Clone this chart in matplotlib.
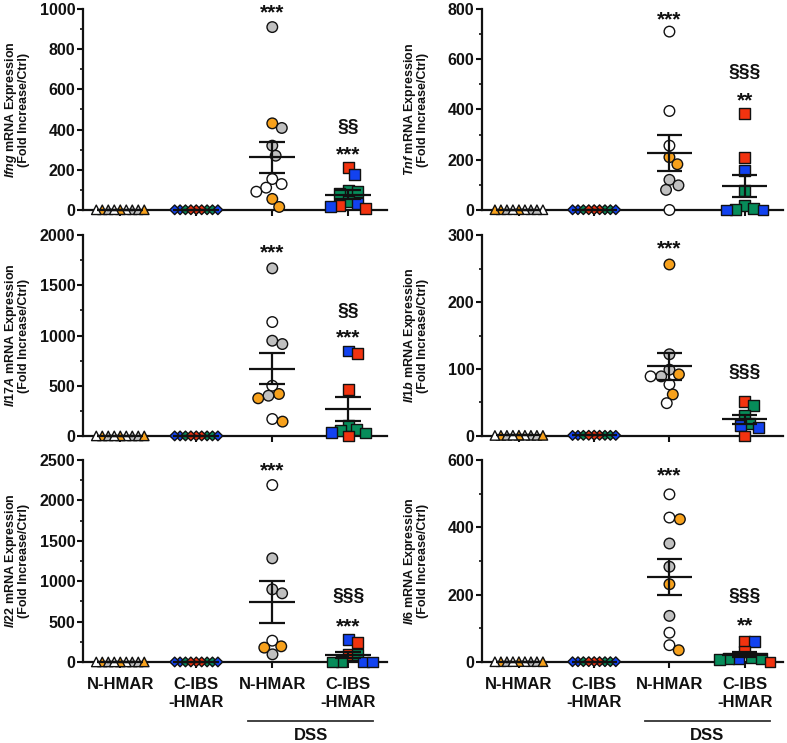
import numpy as np
import matplotlib
matplotlib.use("Agg")
import matplotlib.pyplot as plt
from matplotlib.ticker import MultipleLocator, AutoMinorLocator
import matplotlib.transforms as mtransforms

## fonts: bold Arial-like everywhere, gene names in bold italic
plt.rcParams['font.family'] = ['Liberation Sans', 'DejaVu Sans']
plt.rcParams['font.weight'] = 'bold'
plt.rcParams['mathtext.fontset'] = 'custom'
plt.rcParams['mathtext.it'] = 'Liberation Sans:italic:bold'
plt.rcParams['mathtext.rm'] = 'Liberation Sans:bold'

## ---------------- data ----------------
groups = ['N-HMAR', 'C-IBS\n-HMAR', 'N-HMAR', 'C-IBS\n-HMAR']
genes = ['Ifng', 'Tnf', 'Il17A', 'Il1b', 'Il22', 'Il6']
ymax = [1000, 800, 2000, 300, 2500, 600]
ystep = [200, 200, 500, 100, 500, 200]

# colour codes: w white, g grey, o orange, r red, b blue, gr green
# control groups (fold ~1 of ctrl)
ctrl_n = [1.0, 0.9, 1.1, 1.0, 1.2, 0.8, 1.0, 0.9, 1.1]
ctrl_n_col = ['g', 'o', 'w', 'g', 'o', 'w', 'g', 'o', 'w']
ctrl_c = [1.0, 1.1, 0.9, 1.0, 1.2, 0.8, 1.0, 1.1, 0.9]
ctrl_c_col = ['gr', 'r', 'b', 'gr', 'r', 'b', 'gr', 'r', 'b']

# DSS groups
ifng_n = [910, 431, 408, 320, 270, 154, 129, 111, 91, 55, 15]
ifng_n_col = ['g', 'o', 'g', 'g', 'g', 'w', 'w', 'w', 'w', 'o', 'o']
ifng_c = [210, 177, 96, 91, 80, 41, 30, 20, 15, 5]
ifng_c_col = ['r', 'b', 'gr', 'gr', 'gr', 'gr', 'b', 'r', 'b', 'r']

tnf_n = [710, 394, 256, 210, 182, 120, 98, 80, 0]
tnf_n_col = ['w', 'w', 'w', 'o', 'o', 'g', 'g', 'g', 'w']
tnf_c = [384, 208, 157, 76, 16, 5, 3, 0, 0]
tnf_c_col = ['r', 'r', 'b', 'gr', 'gr', 'gr', 'gr', 'b', 'b']

il17a_n = [1668, 1134, 948, 915, 500, 418, 401, 375, 169, 143]
il17a_n_col = ['g', 'w', 'g', 'g', 'w', 'o', 'g', 'o', 'w', 'o']
il17a_c = [846, 823, 465, 109, 60, 53, 37, 30, 0]
il17a_c_col = ['b', 'r', 'r', 'gr', 'gr', 'gr', 'b', 'gr', 'r']

il1b_n = [256, 122, 99, 92, 89, 89, 77, 62, 49]
il1b_n_col = ['o', 'g', 'g', 'o', 'g', 'w', 'w', 'o', 'w']
il1b_c = [52, 46, 30, 18, 16, 12, 0]
il1b_c_col = ['r', 'gr', 'gr', 'gr', 'b', 'b', 'r']

il22_n = [2190, 1283, 899, 850, 264, 194, 178, 95]
il22_n_col = ['w', 'g', 'g', 'g', 'w', 'o', 'o', 'g']
il22_c = [277, 240, 95, 95, 10, 0, 0, 0]
il22_c_col = ['b', 'r', 'r', 'gr', 'gr', 'b', 'gr', 'b']

il6_n = [498, 429, 424, 352, 283, 231, 137, 87, 50, 35]
il6_n_col = ['w', 'w', 'o', 'g', 'g', 'o', 'g', 'w', 'w', 'o']
il6_c = [60, 60, 30, 12, 10, 10, 10, 8, 0]
il6_c_col = ['r', 'b', 'r', 'gr', 'b', 'gr', 'gr', 'gr', 'r']

dss_n = [ifng_n, tnf_n, il17a_n, il1b_n, il22_n, il6_n]
dss_n_col = [ifng_n_col, tnf_n_col, il17a_n_col, il1b_n_col, il22_n_col, il6_n_col]
dss_c = [ifng_c, tnf_c, il17a_c, il1b_c, il22_c, il6_c]
dss_c_col = [ifng_c_col, tnf_c_col, il17a_c_col, il1b_c_col, il22_c_col, il6_c_col]

# significance marks (vs control: *, vs DSS N-HMAR: §)
sig_n = ['***', '***', '***', '***', '***', '***']
sig_c_sect = ['§§', '§§§', '§§', '§§§', '§§§', '§§§']
sig_c_star = ['***', '**', '***', '', '***', '**']

## ---------------- styles / layout ----------------
palette = {'w': '#ffffff', 'g': '#c0c0c0', 'o': '#f7a11c',
           'r': '#f2330f', 'b': '#1242f0', 'gr': '#078c5a'}
# marker, scatter size, spacing (px) between neighbours
mstyle = [('^', 46, 6.0), ('D', 24, 5.4), ('o', 58, 10.6), ('s', 62, 9.4)]

# axes rectangles (fig fraction), left/right column x 3 rows
col_x = [(0.1055, 0.3863), (0.6125, 0.3825)]
row_y = [(0.7174, 0.2705), (0.4132, 0.2705), (0.1090, 0.2719)]
# text heights (fraction of ymax) for the significance marks
pos_n = [1.011, 0.979, 0.942, 0.963, 0.975, 0.950]
pos_sect = [0.408, 0.684, 0.619, 0.318, 0.323, 0.323]
pos_star = [0.303, 0.573, 0.519, 0.0, 0.204, 0.208]

XMIN, XMAX = -0.49, 3.51

fig = plt.figure(figsize=(7.87, 7.43), dpi=100)


def swarm(ax, vals, xc, spacing):
    ## simple beeswarm in pixel space, returns x positions in data units
    vals = np.asarray(vals, dtype=float)
    px_unit = ax.bbox.width / (XMAX - XMIN)
    ys = ax.transData.transform(np.column_stack([np.zeros(len(vals)), vals]))[:, 1]
    placed = []
    xs = np.zeros(len(vals))
    for i in np.argsort(-vals, kind='stable'):
        y = ys[i]
        cands = [0.0]
        for px, py in placed:
            dy = y - py
            if abs(dy) < spacing:
                dx = np.sqrt(spacing ** 2 - dy ** 2)
                cands += [px + dx, px - dx]
        cands.sort(key=abs)
        for c in cands:
            if all((c - px) ** 2 + (y - py) ** 2 >= spacing ** 2 - 1e-6 for px, py in placed):
                xs[i] = c
                break
        placed.append((xs[i], y))
    return xc + xs / px_unit


def mean_sem(ax, xc, vals):
    m = np.mean(vals)
    s = np.std(vals, ddof=1) / np.sqrt(len(vals))
    kw = dict(color='#111111', lw=1.6, zorder=4, clip_on=False, solid_capstyle='butt')
    ax.plot([xc - 0.3, xc + 0.3], [m, m], **kw)
    ax.plot([xc, xc], [m - s, m + s], **kw)
    ax.plot([xc - 0.17, xc + 0.17], [m + s, m + s], **kw)
    ax.plot([xc - 0.17, xc + 0.17], [m - s, m - s], **kw)


for k in range(6):
    r, c = divmod(k, 2)
    ax = fig.add_axes([col_x[c][0], row_y[r][0], col_x[c][1], row_y[r][1]])
    ax.set_xlim(XMIN, XMAX)
    ax.set_ylim(0, ymax[k])

    sets = [(ctrl_n, ctrl_n_col), (ctrl_c, ctrl_c_col),
            (dss_n[k], dss_n_col[k]), (dss_c[k], dss_c_col[k])]
    for gi, (vals, cols) in enumerate(sets):
        mk, size, sp = mstyle[gi]
        xs = swarm(ax, vals, gi, sp)
        ax.scatter(xs, vals, s=size, marker=mk, c=[palette[q] for q in cols],
                   edgecolors='#111111', linewidths=1.0, zorder=3, clip_on=False)
        mean_sem(ax, gi, vals)

    ## significance marks
    big = dict(ha='center', va='center', fontsize=15, fontweight='bold', color='#111111',
               textcoords='offset points', xytext=(0, -4.5), annotation_clip=False)
    ax.annotate(sig_n[k], xy=(2, pos_n[k] * ymax[k]), **big)
    ax.annotate(sig_c_sect[k], xy=(3, pos_sect[k] * ymax[k]), ha='center', va='center',
                fontsize=14, fontweight='bold', color='#111111', annotation_clip=False)
    if sig_c_star[k]:
        ax.annotate(sig_c_star[k], xy=(3, pos_star[k] * ymax[k]), **big)

    ## axes cosmetics (GraphPad look)
    for sp_name in ['top', 'right']:
        ax.spines[sp_name].set_visible(False)
    for sp_name in ['left', 'bottom']:
        ax.spines[sp_name].set_linewidth(1.6)
        ax.spines[sp_name].set_color('#111111')
    ax.yaxis.set_major_locator(MultipleLocator(ystep[k]))
    ax.yaxis.set_minor_locator(AutoMinorLocator(2))
    ax.tick_params(axis='y', which='major', length=4, width=1.5, pad=1.5,
                   labelsize=11.5, colors='#111111')
    ax.tick_params(axis='y', which='minor', length=2.5, width=1.2, color='#111111')
    ax.set_xticks(range(4))
    ax.tick_params(axis='x', length=4, width=1.5, pad=7, labelsize=12, colors='#111111')
    if r == 2:
        ax.set_xticklabels(groups)
        ## DSS bracket below the two DSS groups
        tr = mtransforms.blended_transform_factory(ax.transData, ax.transAxes)
        ax.plot([1.68, 3.33], [-0.292, -0.292], transform=tr, color='#333333',
                lw=1.3, clip_on=False)
        ax.text(2.505, -0.362, 'DSS', transform=tr, ha='center', va='center',
                fontsize=12, fontweight='bold', color='#111111')
    else:
        ax.set_xticklabels([])

    ax.set_ylabel('$\\mathit{' + genes[k] + '}$ mRNA Expression\n(Fold Increase/Ctrl)',
                  fontsize=9.0, fontweight='bold', linespacing=0.86, color='#111111')
    ax.yaxis.set_label_coords(-0.176, 0.5)

fig.savefig('out.png', dpi=100)
plt.close()
